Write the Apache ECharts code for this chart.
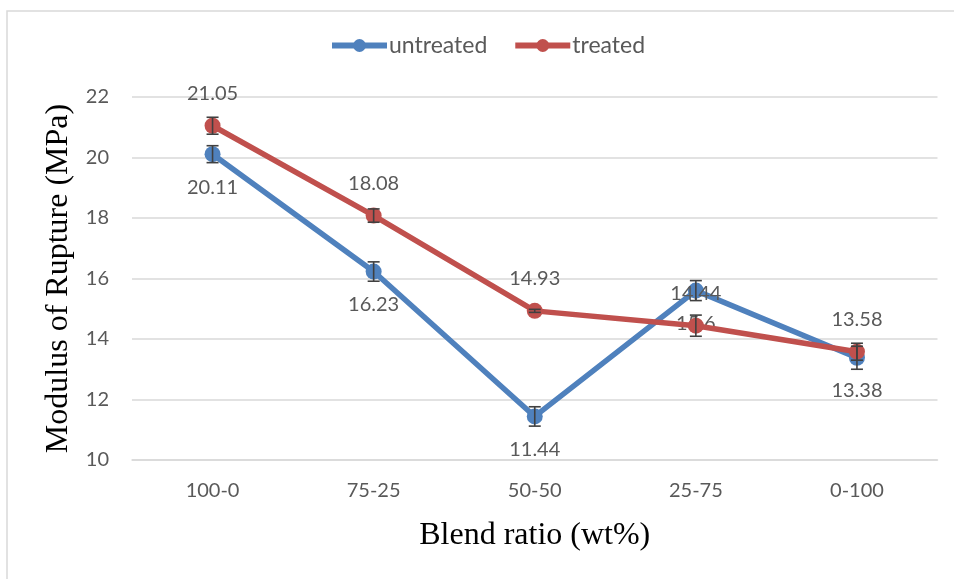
<!DOCTYPE html>
<html>
<head>
<meta charset="utf-8">
<script src="https://cdn.jsdelivr.net/npm/echarts@6/dist/echarts.min.js"></script>
<style>
  html, body { margin: 0; padding: 0; background: #ffffff; }
  #chart { width: 954px; height: 579px; }
</style>
</head>
<body>
<div id="chart"></div>
<script>
// Blend ratios and modulus of rupture (MPa)
const categories = ['100-0', '75-25', '50-50', '25-75', '0-100'];
const untreated = [20.11, 16.23, 11.44, 15.6, 13.38];
const treated = [21.05, 18.08, 14.93, 14.44, 13.58];
// Standard deviations for the error bars
const untreatedErr = [0.28, 0.32, 0.32, 0.33, 0.38];
const treatedErr = [0.28, 0.22, 0.05, 0.35, 0.28];
const yTicks = [10, 12, 14, 16, 18, 20, 22];

const BLUE = '#4f81bd';
const RED = '#c0504d';
const TEXT = '#595959';
const LABEL_FONT = 'Lato, "Open Sans", sans-serif';
const TITLE_FONT = '"Liberation Serif", "Times New Roman", serif';

function errData(values, errs) {
  return values.map((v, i) => [i, v - errs[i], v + errs[i]]);
}

function errorBarSeries(name, values, errs) {
  return {
    type: 'custom',
    name: name + '-err',
    z: 5,
    silent: true,
    data: errData(values, errs),
    renderItem: function (params, api) {
      const lo = api.coord([api.value(0), api.value(1)]);
      const hi = api.coord([api.value(0), api.value(2)]);
      const half = 6;
      const style = { stroke: '#404040', lineWidth: 1.6 };
      return {
        type: 'group',
        children: [
          { type: 'line', shape: { x1: hi[0], y1: hi[1], x2: lo[0], y2: lo[1] }, style: style },
          { type: 'line', shape: { x1: hi[0] - half, y1: hi[1], x2: hi[0] + half, y2: hi[1] }, style: style },
          { type: 'line', shape: { x1: lo[0] - half, y1: lo[1], x2: lo[0] + half, y2: lo[1] }, style: style }
        ]
      };
    }
  };
}

const chart = echarts.init(document.getElementById('chart'), null, { renderer: 'canvas' });

chart.setOption({
  backgroundColor: '#ffffff',
  animation: false,
  graphic: [{
    type: 'rect',
    shape: { x: 7, y: 11, width: 1000, height: 700 },
    style: { fill: 'none', stroke: '#d9d9d9', lineWidth: 1.5 },
    silent: true,
    z: -10
  }],
  legend: {
    top: 29,
    left: 324,
    itemWidth: 55,
    itemHeight: 16,
    itemGap: 25,
    lineStyle: { width: 6 },
    data: ['untreated', 'treated'],
    textStyle: { color: TEXT, fontSize: 23, fontFamily: LABEL_FONT, padding: [0, 0, 0, -3] }
  },
  grid: { left: 132, right: 16.5, top: 97, bottom: 119 },
  xAxis: {
    type: 'category',
    data: categories,
    boundaryGap: true,
    axisLine: { lineStyle: { color: '#d9d9d9', width: 1.5 } },
    axisTick: { show: false },
    axisLabel: { color: TEXT, fontSize: 20, fontFamily: LABEL_FONT, margin: 21 },
    name: 'Blend ratio (wt%)',
    nameLocation: 'middle',
    nameGap: 60,
    nameTextStyle: { color: '#000000', fontSize: 32, fontFamily: TITLE_FONT }
  },
  yAxis: {
    type: 'value',
    min: yTicks[0],
    max: yTicks[yTicks.length - 1],
    interval: 2,
    axisLine: { show: false },
    axisTick: { show: false },
    splitLine: { lineStyle: { color: '#d9d9d9', width: 1.5 } },
    axisLabel: { color: TEXT, fontSize: 20, fontFamily: LABEL_FONT, margin: 23 },
    name: 'Modulus of Rupture (MPa)',
    nameLocation: 'middle',
    nameRotate: 90,
    nameGap: 57,
    nameTextStyle: { color: '#000000', fontSize: 32, fontFamily: TITLE_FONT }
  },
  series: [
    {
      name: 'untreated',
      type: 'line',
      data: untreated,
      z: 3,
      symbol: 'circle',
      symbolSize: 16,
      itemStyle: { color: BLUE },
      lineStyle: { color: BLUE, width: 5.5 },
      label: {
        show: true,
        position: 'bottom',
        distance: 15,
        color: TEXT,
        fontSize: 20,
        fontFamily: LABEL_FONT
      }
    },
    {
      name: 'treated',
      type: 'line',
      data: treated,
      z: 4,
      symbol: 'circle',
      symbolSize: 16,
      itemStyle: { color: RED },
      lineStyle: { color: RED, width: 5.5 },
      label: {
        show: true,
        position: 'top',
        distance: 14,
        color: TEXT,
        fontSize: 20,
        fontFamily: LABEL_FONT
      }
    },
    errorBarSeries('untreated', untreated, untreatedErr),
    errorBarSeries('treated', treated, treatedErr)
  ]
});
</script>
</body>
</html>
